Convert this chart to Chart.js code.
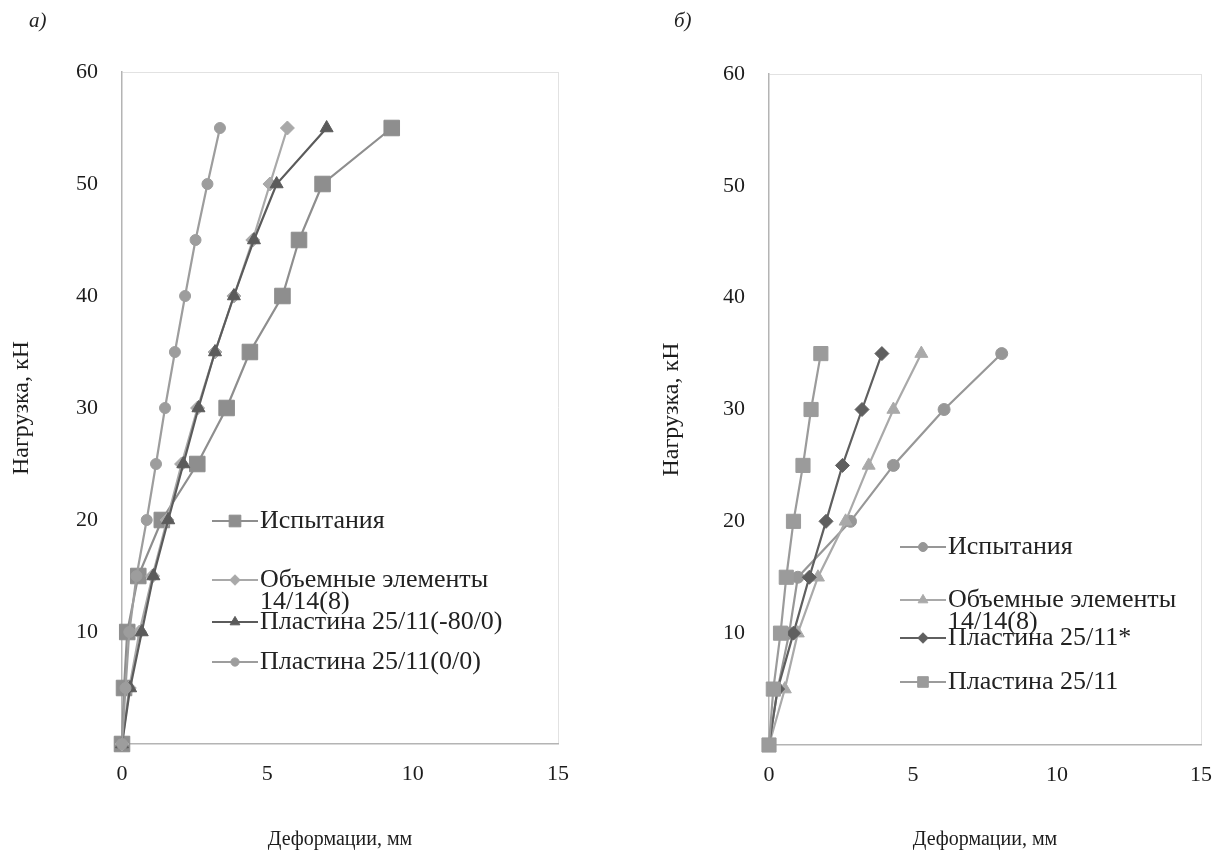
<!DOCTYPE html>
<html lang="ru">
<head>
<meta charset="UTF-8">
<title>Нагрузка – деформации</title>
<script src="https://cdn.jsdelivr.net/npm/chart.js@4.4.1/dist/chart.umd.min.js"></script>
<style>
    body { margin: 0; background: #fff; }
    .panel { position: absolute; top: 0; }
    #panelA { left: 0; }
    #panelB { left: 614px; }
    .tag {
        position: absolute; top: 8px;
        font-family: "Liberation Serif", serif; font-style: italic;
        font-size: 21px; color: #222;
    }
</style>
</head>
<body>
<div class="panel" id="panelA"><canvas id="chartA" width="614" height="865"></canvas></div>
<div class="panel" id="panelB"><canvas id="chartB" width="615" height="865"></canvas></div>
<div class="tag" style="left:29px">а)</div>
<div class="tag" style="left:674px">б)</div>

<script>
// -------------------------- data ----------------------------
const loadsA = [0, 5, 10, 15, 20, 25, 30, 35, 40, 45, 50, 55];
const testA = [0, 0.07, 0.18, 0.56, 1.37, 2.59, 3.60, 4.40, 5.52, 6.09, 6.90, 9.28];
const solidA = [0, 0.25, 0.60, 1.05, 1.55, 2.05, 2.60, 3.20, 3.85, 4.50, 5.09, 5.69];
const plate80A = [0, 0.28, 0.68, 1.08, 1.59, 2.11, 2.63, 3.20, 3.85, 4.54, 5.32, 7.04];
const plate00A = [0, 0.12, 0.25, 0.50, 0.85, 1.17, 1.48, 1.82, 2.17, 2.53, 2.94, 3.37];

const loadsB = [0, 5, 10, 15, 20, 25, 30, 35];
const testB = [0, 0.30, 0.70, 1.00, 2.83, 4.32, 6.08, 8.08];
const solidB = [0, 0.55, 1.00, 1.70, 2.66, 3.46, 4.32, 5.29];
const plateStarB = [0, 0.30, 0.85, 1.40, 1.98, 2.55, 3.23, 3.92];
const plateB = [0, 0.15, 0.40, 0.60, 0.85, 1.18, 1.46, 1.80];

const xTicks = [0, 5, 10, 15];
const yTicks = [0, 10, 20, 30, 40, 50, 60];

const xTitle = 'Деформации, мм';
const yTitle = 'Нагрузка, кН';

// -------------------------- helpers ----------------------------
function points(xs, ys) {
    return xs.map((x, i) => ({ x: x, y: ys[i] }));
}

function series(label, xs, ys, color, style, radius, order) {
    return {
        label: label,
        data: points(xs, ys),
        showLine: true,
        clip: false,
        borderColor: color,
        backgroundColor: color,
        pointBackgroundColor: color,
        pointBorderColor: color,
        pointBorderWidth: 1,
        borderWidth: 2.2,
        pointStyle: style,
        pointRadius: radius,
        pointHoverRadius: radius,
        order: order
    };
}

// legend drawn inside the plot area, at fixed rows
const boxLegend = {
    id: 'boxLegend',
    afterDraw(chart, args, opts) {
        const ctx = chart.ctx;
        chart.data.datasets.forEach((ds, i) => {
            const y = opts.rows[i];
            ctx.save();
            ctx.strokeStyle = ds.borderColor;
            ctx.lineWidth = 2;
            ctx.beginPath();
            ctx.moveTo(opts.x, y);
            ctx.lineTo(opts.x + opts.lineLen, y);
            ctx.stroke();

            ctx.fillStyle = ds.pointBackgroundColor;
            ctx.lineWidth = 1;
            Chart.helpers.drawPoint(ctx, {
                pointStyle: ds.pointStyle,
                radius: ds.pointRadius * 0.75,
                borderWidth: 1,
                rotation: 0
            }, opts.x + opts.lineLen / 2, y);

            ctx.fillStyle = '#222';
            ctx.font = '26px "Liberation Serif"';
            ctx.textBaseline = 'middle';
            ds.label.split('\n').forEach((line, k) => {
                ctx.fillText(line, opts.x + opts.lineLen + 2, y + k * 22);
            });
            ctx.restore();
        });
    }
};

function makeConfig(datasets, box) {
    const tickFont = { family: 'Liberation Serif', size: 22 };
    return {
        type: 'scatter',
        data: { datasets: datasets },
        plugins: [boxLegend],
        options: {
            responsive: false,
            animation: false,
            layout: { padding: { left: box.padLeft, right: box.padRight, top: box.top, bottom: 0 } },
            plugins: {
                legend: { display: false },
                tooltip: { enabled: false },
                boxLegend: { x: box.legendX, lineLen: 46, rows: box.rows }
            },
            scales: {
                x: {
                    type: 'linear',
                    min: 0, max: 15,
                    afterBuildTicks: scale => { scale.ticks = xTicks.map(v => ({ value: v })); },
                    afterFit: scale => { scale.height = 865 - box.bottom; },
                    ticks: { color: '#1c1c1c', font: tickFont, padding: 17 },
                    grid: {
                        drawTicks: false,
                        color: c => (c.tick && c.tick.value === 15) ? '#e2e2e2' : 'transparent'
                    },
                    border: { color: '#b4b4b4', width: 1.5 },
                    title: {
                        display: true, text: xTitle, color: '#1c1c1c',
                        font: { family: 'Liberation Serif', size: 20 },
                        padding: { top: 0, bottom: 13 }
                    }
                },
                y: {
                    type: 'linear',
                    min: 0, max: 60,
                    afterBuildTicks: scale => { scale.ticks = yTicks.map(v => ({ value: v })); },
                    afterFit: scale => { scale.width = box.axisWidth; },
                    ticks: {
                        color: '#1c1c1c', font: tickFont, padding: 24,
                        callback: v => (v === 0 ? '' : v)
                    },
                    grid: {
                        drawTicks: false,
                        color: c => (c.tick && c.tick.value === 60) ? '#e2e2e2' : 'transparent'
                    },
                    border: { color: '#b4b4b4', width: 1.5 },
                    title: {
                        display: true, text: yTitle, color: '#1c1c1c',
                        font: { family: 'Liberation Serif', size: 24 },
                        padding: { top: box.titlePad, bottom: 0 }
                    }
                }
            }
        }
    };
}

// -------------------------- chart а) ----------------------------
new Chart(document.getElementById('chartA'), makeConfig([
    series('Испытания', testA, loadsA, '#8e8e8e', 'rect', 11, 4),
    series('Объемные элементы\n14/14(8)', solidA, loadsA, '#a9a9a9', 'rectRot', 7, 3),
    series('Пластина 25/11(-80/0)', plate80A, loadsA, '#5b5b5b', 'triangle', 7.5, 2),
    series('Пластина 25/11(0/0)', plate00A, loadsA, '#9d9d9d', 'circle', 5.5, 1)
], {
    padLeft: 0, padRight: 56, top: 72, bottom: 744,
    axisWidth: 122, titlePad: 7,
    legendX: 212, rows: [521, 580, 622, 662]
}));

// -------------------------- chart б) ----------------------------
new Chart(document.getElementById('chartB'), makeConfig([
    series('Испытания', testB, loadsB, '#979797', 'circle', 6, 4),
    series('Объемные элементы\n14/14(8)', solidB, loadsB, '#a9a9a9', 'triangle', 7.5, 3),
    series('Пластина 25/11*', plateStarB, loadsB, '#5f5f5f', 'rectRot', 7, 2),
    series('Пластина 25/11', plateB, loadsB, '#9b9b9b', 'rect', 10, 1)
], {
    padLeft: 36, padRight: 22, top: 74, bottom: 745,
    axisWidth: 119, titlePad: 7,
    legendX: 286, rows: [547, 600, 638, 682]
}));
</script>
</body>
</html>
